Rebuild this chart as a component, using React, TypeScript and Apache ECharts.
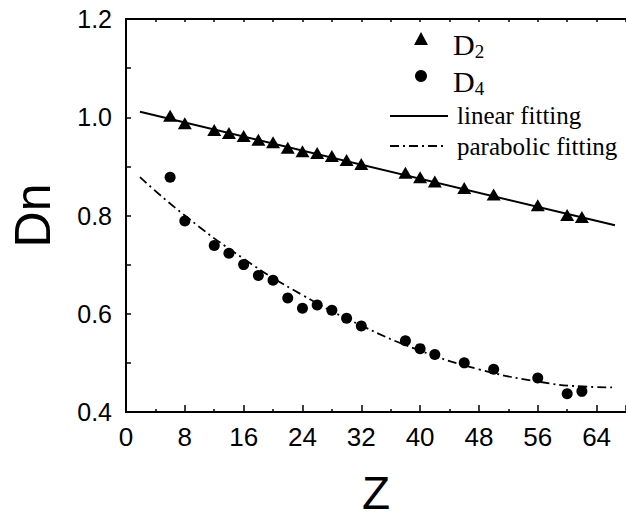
import React, { useEffect, useRef } from "react";
import * as echarts from "echarts";

const zValues = [6, 8, 12, 14, 16, 18, 20, 22, 24, 26, 28, 30, 32, 38, 40, 42, 46, 50, 56, 60, 62];
const d2Values = [1.003, 0.988, 0.974, 0.968, 0.962, 0.954, 0.949, 0.938, 0.931, 0.927, 0.921, 0.913, 0.905, 0.887, 0.878, 0.869, 0.856, 0.843, 0.821, 0.801, 0.797];
const d4Values = [0.878, 0.789, 0.739, 0.723, 0.700, 0.678, 0.668, 0.632, 0.611, 0.618, 0.607, 0.591, 0.575, 0.545, 0.529, 0.517, 0.500, 0.487, 0.469, 0.437, 0.442];

// Fitting curves
const linearFitZ = [1.9, 66.5];
const linearFitD = [1.011, 0.780];
const parabolicFitZ = [1.9, 8, 16, 24, 32, 40, 48, 56, 62, 66.5];
const parabolicFitD = [0.878, 0.800, 0.712, 0.638, 0.576, 0.525, 0.487, 0.462, 0.452, 0.450];

const xTickLabels = ["0", "8", "16", "24", "32", "40", "48", "56", "64"];
const yTickLabels = ["0.4", "0.6", "0.8", "1.0", "1.2"];

const legendNames = { d2: "D2", d4: "D4", lin: "linear fitting", par: "parabolic fitting" };

const zip = (xs: number[], ys: number[]) => xs.map((x, i) => [x, ys[i]]);

export default function App() {
  const ref = useRef<HTMLDivElement>(null);
  useEffect(() => {
    if (!ref.current) return;
    const chart = echarts.init(ref.current, null, { renderer: "svg" });
    const sans = "'Liberation Sans', Arial, sans-serif";
    const serif = "'Liberation Serif', 'Times New Roman', serif";
    const black = "#000";
    const dashDot = [9, 4, 2, 4];
    const legendX = 390;
    const subRich = {
      m: { fontFamily: serif, fontSize: 30, fill: black },
      s: { fontFamily: serif, fontSize: 19, fill: black, padding: [15, 0, 0, 0] },
    };
    chart.setOption({
      animation: false,
      backgroundColor: "#fff",
      grid: { left: 125, top: 19, right: 0, bottom: 106 },
      xAxis: [
        {
          type: "value",
          position: "bottom",
          min: 0,
          max: 68,
          interval: 8,
          name: "Z",
          nameLocation: "middle",
          nameGap: 58,
          nameTextStyle: { fontFamily: sans, fontSize: 46, color: black },
          axisLine: { show: true, lineStyle: { color: black, width: 2 } },
          axisTick: { show: true, inside: true, length: 7, lineStyle: { color: black, width: 1.5 } },
          minorTick: { show: true, splitNumber: 2, length: 3, lineStyle: { color: black, width: 1.5 } },
          splitLine: { show: false },
          axisLabel: {
            fontFamily: sans,
            fontSize: 26,
            color: black,
            margin: 12,
            showMaxLabel: false,
            formatter: (v: number) => (xTickLabels.includes(String(v)) ? String(v) : ""),
          },
        },
        {
          type: "value",
          position: "top",
          min: 0,
          max: 68,
          interval: 4,
          axisLine: { show: true, lineStyle: { color: black, width: 2 } },
          axisTick: { show: true, inside: true, length: 3, lineStyle: { color: black, width: 1.5 } },
          axisLabel: { show: false },
          splitLine: { show: false },
        },
      ],
      yAxis: {
        type: "value",
        min: 0.4,
        max: 1.2,
        interval: 0.2,
        name: "Dn",
        nameLocation: "middle",
        nameRotate: 90,
        nameGap: 68,
        nameTextStyle: { fontFamily: sans, fontSize: 50, color: black },
        axisLine: { show: true, lineStyle: { color: black, width: 2 } },
        axisTick: { show: true, inside: true, length: 5, lineStyle: { color: black, width: 1.5 } },
        minorTick: { show: true, splitNumber: 2, length: 5, lineStyle: { color: black, width: 1.5 } },
        splitLine: { show: false },
        axisLabel: {
          fontFamily: sans,
          fontSize: 25,
          color: black,
          margin: 14,
          formatter: (v: number) => {
            const s = v.toFixed(1);
            return yTickLabels.includes(s) ? s : "";
          },
        },
      },
      series: [
        {
          name: legendNames.lin,
          type: "line",
          data: zip(linearFitZ, linearFitD),
          showSymbol: false,
          symbol: "none",
          lineStyle: { color: black, width: 2 },
          z: 2,
        },
        {
          name: legendNames.par,
          type: "line",
          data: zip(parabolicFitZ, parabolicFitD),
          smooth: true,
          showSymbol: false,
          symbol: "none",
          lineStyle: { color: black, width: 1.8, type: dashDot },
          z: 2,
        },
        {
          name: legendNames.d2,
          type: "scatter",
          data: zip(zValues, d2Values),
          symbol: "triangle",
          symbolSize: [14, 12],
          itemStyle: { color: black, opacity: 1 },
          z: 3,
        },
        {
          name: legendNames.d4,
          type: "scatter",
          data: zip(zValues, d4Values),
          symbol: "circle",
          symbolSize: 11,
          itemStyle: { color: black, opacity: 1 },
          z: 3,
        },
      ],
      graphic: [
        {
          type: "polygon",
          shape: { points: [[421, 32], [414, 45], [428, 45]] },
          style: { fill: black },
        },
        {
          type: "text",
          x: 453,
          y: 44,
          style: { text: "{m|D}{s|2}", rich: subRich, verticalAlign: "middle" },
        },
        {
          type: "circle",
          shape: { cx: 421, cy: 76, r: 6 },
          style: { fill: black },
        },
        {
          type: "text",
          x: 453,
          y: 81,
          style: { text: "{m|D}{s|4}", rich: subRich, verticalAlign: "middle" },
        },
        {
          type: "line",
          shape: { x1: legendX, y1: 116, x2: 448, y2: 116 },
          style: { stroke: black, lineWidth: 2 },
        },
        {
          type: "text",
          x: 457,
          y: 115,
          style: { text: legendNames.lin, fontFamily: serif, fontSize: 25, fill: black, verticalAlign: "middle" },
        },
        {
          type: "line",
          shape: { x1: legendX, y1: 146, x2: 446, y2: 146 },
          style: { stroke: black, lineWidth: 1.8, lineDash: dashDot },
        },
        {
          type: "text",
          x: 457,
          y: 146,
          style: { text: legendNames.par, fontFamily: serif, fontSize: 25, fill: black, verticalAlign: "middle" },
        },
      ],
    });
    return () => chart.dispose();
  }, []);
  return (
    <div
      ref={ref}
      style={{ position: "fixed", left: 0, top: 0, width: 626, height: 521, background: "#fff" }}
    />
  );
}
